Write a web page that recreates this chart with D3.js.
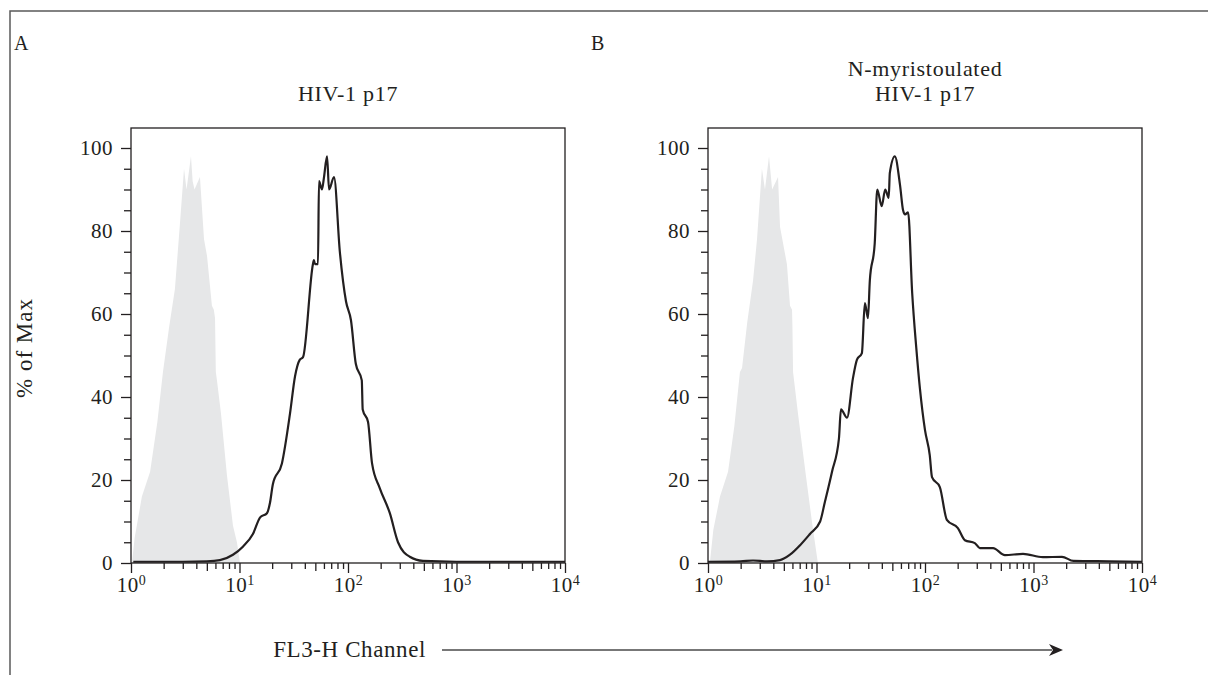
<!DOCTYPE html>
<html>
<head>
<meta charset="utf-8">
<script src="https://cdn.jsdelivr.net/npm/d3@7"></script>
<style>
  body { margin: 0; background: #fff; }
  svg text { font-family: "Liberation Serif", "DejaVu Serif", serif; fill: #231f20; letter-spacing: 0.5px; }
</style>
</head>
<body>
<svg id="fig"></svg>
<script>
// tick values
const yTicks = [0, 20, 40, 60, 80, 100]
const yMinor = [5, 10, 15, 25, 30, 35, 45, 50, 55, 65, 70, 75, 85, 90, 95]
const xDecades = [0, 1, 2, 3, 4]

const panelLetters = ['A', 'B']
const panelTitles = [['HIV-1 p17'], ['N-myristoulated', 'HIV-1 p17']]

// [fluorescence, % of max]
const controlA = [[1.02,0],[1.08,6],[1.26,16],[1.5,22],[1.75,34],[1.97,46],[2.25,57],[2.54,66],[2.83,82],[3.08,95],[3.25,90],
  [3.57,98],[3.7,92],[3.85,90],[4.32,93],[4.71,78],[5.02,74],[5.57,62],[5.8,61],[5.95,59],[6.05,46],[6.2,44],[6.75,36],
  [7.67,21],[8.71,9],[9.47,5],[10.1,0]]
const stainA = [[1.05,0.3],[3,0.3],[5,0.4],[6.6,0.7],[8.7,2],[10.8,4],[13.3,7],[15.5,11],[17.9,12],[19.1,14.5],[20.3,19],
  [24.6,24],[29.2,36],[32.5,45],[36,49],[38.5,49.6],[47.5,72],[48.5,73],[49.6,72],[52.9,72],[54,92],[57.6,90],[60.1,93],
  [64.1,98],[66.9,90],[74.3,93],[84.1,75],[95.9,63],[106.5,58.5],[118,48],[134,44],[136.6,37],[153,34],[166.6,24],
  [196.5,18],[243,12],[289,5],[371,1.5],[491,0.5],[1000,0.3],[10000,0.3]]
const controlB = [[1.04,0],[1.12,8],[1.29,16],[1.53,22],[1.75,33],[1.97,46],[2.06,47],[2.3,58],[2.6,68],[2.83,78],[3.14,95],
  [3.35,90],[3.65,98],[3.9,90],[4.42,93],[4.61,81],[5.34,72],[5.7,62],[5.95,61],[6.0,57],[6.08,46],[6.75,36],[7.99,21],
  [9.07,10],[10.1,1.5],[10.3,0]]
const stainB = [[1.0,0.3],[2.0,0.4],[2.6,0.6],[3.5,0.4],[4.61,0.7],[5.7,2],[7.06,4.3],[8.7,7],[10.8,10],[11.9,14.5],
  [13.9,22],[16.1,30],[16.8,37],[19.1,35],[21.7,44.6],[23.6,49],[26.2,50.6],[27.9,62.6],[29.8,59],[31,68],[34.4,77],
  [36.3,90],[39.9,86],[43,90],[46.3,88],[47.4,94],[52.7,98],[58.9,91],[62.8,85],[65.5,84],[69.9,84.5],[76.2,65],[83,52],
  [89.8,42],[100,32],[110.6,26],[116,20.7],[137,18.3],[159,10.4],[201,8.4],[233,5.5],[288,4.8],[320,3.6],[424,3.6],
  [545,1.9],[801,2.2],[1218,1.4],[1830,1.5],[2333,0.5],[5000,0.4],[10000,0.3]]

const controls = [controlA, controlB]
const stains = [stainA, stainB]

const w = 1208, h = 675
const ink = '#231f20'
const grey = '#e6e7e8'
const fs = 21

const svg = d3.select('#fig').attr('width', w).attr('height', h)

// outer figure frame (top and left only)
svg.append('path')
  .attr('d', `M10,${h} V11 H${w}`)
  .attr('fill', 'none').attr('stroke', '#5a5a5a').attr('stroke-width', 1.5)

const plotTop = 128, plotBottom = 563, plotW = 434
const panelX = [131, 708]

const y = d3.scaleLinear([0, (plotBottom - plotTop) / 4.15], [plotBottom, plotTop])

panelX.forEach((x0, p) => {
  const x = d3.scaleLog([1, 1e4], [x0, x0 + plotW])
  const g = svg.append('g')

  g.append('text')
    .attr('x', x0 - 117).attr('y', 50)
    .attr('font-size', 20)
    .text(panelLetters[p])

  const titles = panelTitles[p]
  titles.forEach((t, i) => {
    g.append('text')
      .attr('x', x0 + plotW / 2)
      .attr('y', 101 - (titles.length - 1 - i) * 25)
      .attr('text-anchor', 'middle')
      .attr('font-size', 22)
      .style('letter-spacing', '0.7px')
      .text(t)
  })

  // control histogram (filled grey)
  const area = d3.area()
    .x(d => x(d[0]))
    .y0(y(0))
    .y1(d => y(d[1]))
  g.append('path')
    .datum(controls[p])
    .attr('d', area)
    .attr('fill', grey)

  // plot box
  g.append('rect')
    .attr('x', x0).attr('y', plotTop)
    .attr('width', plotW).attr('height', plotBottom - plotTop)
    .attr('fill', 'none').attr('stroke', ink).attr('stroke-width', 1.3)

  // y axis
  const yAxis = g.append('g')
    .attr('transform', `translate(${x0},0)`)
    .call(d3.axisLeft(y).tickValues(yTicks).tickSize(10).tickPadding(8))
  const yMin = g.append('g')
    .attr('transform', `translate(${x0},0)`)
    .call(d3.axisLeft(y).tickValues(yMinor).tickSize(7).tickFormat(''))

  // x axis
  const xAxis = g.append('g')
    .attr('transform', `translate(0,${plotBottom})`)
    .call(d3.axisBottom(x).tickValues(xDecades.map(e => Math.pow(10, e))).tickSize(10))
  const minors = []
  xDecades.slice(0, -1).forEach(e => {
    for (let k = 2; k <= 9; k++) minors.push(k * Math.pow(10, e))
  })
  const xMin = g.append('g')
    .attr('transform', `translate(0,${plotBottom})`)
    .call(d3.axisBottom(x).tickValues(minors).tickSize(6).tickFormat(''))
  xMin.selectAll('.tick line')
    .attr('y2', d => Math.round(d / Math.pow(10, Math.floor(Math.log10(d) + 1e-9))) === 5 ? 8 : 6)

  ;[yAxis, yMin, xAxis, xMin].forEach(a => {
    a.select('.domain').remove()
    a.attr('font-family', null).attr('font-size', fs)
    a.selectAll('.tick line').attr('stroke', ink).attr('stroke-width', 1.3)
  })

  xAxis.selectAll('.tick text')
    .attr('y', 29).attr('dy', null)
    .each(function(d) {
      const t = d3.select(this)
      t.text('10')
      t.append('tspan')
        .attr('dy', -7)
        .attr('font-size', 14)
        .text(Math.round(Math.log10(d)))
    })

  // stained sample (black line)
  const line = d3.line()
    .x(d => x(d[0]))
    .y(d => y(d[1]))
    .curve(d3.curveMonotoneX)
  g.append('path')
    .datum(stains[p])
    .attr('d', line)
    .attr('fill', 'none')
    .attr('stroke', ink)
    .attr('stroke-width', 2.2)
    .attr('stroke-linejoin', 'round')
})

// shared y label
svg.append('text')
  .attr('transform', 'translate(32,348) rotate(-90)')
  .attr('text-anchor', 'middle')
  .attr('font-size', 23)
  .style('letter-spacing', '1px')
  .text('% of Max')

// shared x label with arrow
svg.append('text')
  .attr('x', 426).attr('y', 657)
  .attr('text-anchor', 'end')
  .attr('font-size', 23)
  .style('letter-spacing', '0.6px')
  .text('FL3-H Channel')

svg.append('line')
  .attr('x1', 442).attr('x2', 1052)
  .attr('y1', 650).attr('y2', 650)
  .attr('stroke', '#4a4a4a').attr('stroke-width', 1.5)

svg.append('path')
  .attr('d', 'M1063,650 L1049,644 L1053,650 L1049,656 Z')
  .attr('fill', ink)
</script>
</body>
</html>
